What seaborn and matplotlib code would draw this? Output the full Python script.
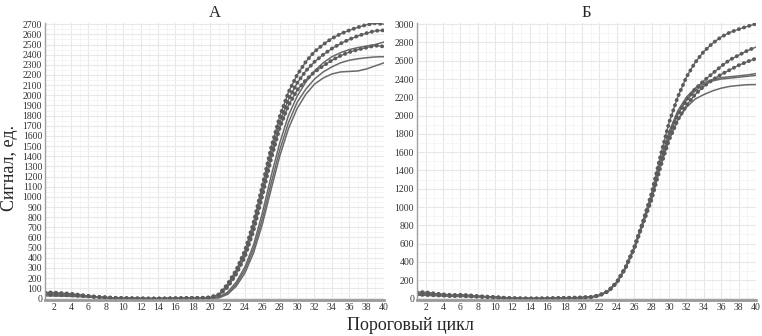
import numpy as np
import matplotlib
matplotlib.use('Agg')
import matplotlib.pyplot as plt
import seaborn as sns
from matplotlib.ticker import MultipleLocator

cycles = list(range(1, 41))

# Panel A - dotted curves
a_dot1 = [60, 58, 52, 46, 35, 24, 15, 9, 5, 2, 0, -2, -3, -3, -2, 0, 3, 5, 6, 10,
          40, 140, 280, 470, 750, 1110, 1480, 1790, 2030, 2200,
          2330, 2430, 2500, 2560, 2605, 2640, 2670, 2695, 2710, 2700]
a_dot2 = [45, 44, 40, 38, 30, 22, 14, 9, 5, 2, 0, -1, -2, -2, -1, 1, 3, 4, 5, 8,
          35, 125, 260, 440, 710, 1060, 1420, 1730, 1960, 2120,
          2240, 2330, 2400, 2460, 2510, 2550, 2585, 2612, 2635, 2640]
a_dot3 = [35, 34, 32, 30, 25, 20, 14, 10, 6, 3, 1, 0, -1, -1, 0, 1, 2, 3, 4, 7,
          30, 110, 240, 410, 670, 1010, 1370, 1680, 1900, 2050,
          2150, 2230, 2290, 2345, 2390, 2425, 2450, 2470, 2490, 2480]
# Panel A - solid curves
a_sol1 = [55, 52, 46, 40, 30, 20, 12, 6, 2, 0, -2, -3, -3, -3, -2, 0, 2, 4, 5, 6,
          15, 60, 160, 310, 530, 840, 1200, 1530, 1800, 1990,
          2130, 2240, 2320, 2380, 2420, 2450, 2470, 2485, 2500, 2525]
a_sol2 = [40, 38, 35, 32, 26, 18, 11, 6, 3, 1, 0, -1, -2, -2, -1, 0, 2, 3, 4, 5,
          10, 50, 140, 280, 490, 780, 1130, 1460, 1730, 1930,
          2060, 2160, 2230, 2280, 2320, 2345, 2360, 2370, 2378, 2380]
a_sol3 = [25, 24, 22, 20, 17, 13, 9, 6, 3, 1, 0, -1, -1, -1, 0, 0, 1, 2, 3, 4,
          5, 40, 120, 250, 450, 730, 1070, 1400, 1670, 1870,
          2010, 2110, 2170, 2210, 2230, 2235, 2240, 2260, 2290, 2320]

# Panel B - dotted curves
b_dot1 = [70, 68, 55, 45, 38, 40, 35, 25, 20, 15, 8, 2, 0, -2, -2, 0, 3, 6, 8, 10,
          15, 35, 80, 180, 340, 560, 840, 1150, 1550, 1920,
          2200, 2420, 2580, 2700, 2790, 2860, 2910, 2945, 2975, 3005]
b_dot2 = [55, 52, 45, 38, 30, 32, 28, 22, 16, 12, 6, 1, -1, -2, -2, 0, 2, 5, 7, 9,
          14, 33, 78, 175, 335, 550, 825, 1100, 1470, 1780,
          2010, 2170, 2290, 2380, 2460, 2540, 2610, 2660, 2710, 2750]
b_dot3 = [40, 38, 34, 30, 25, 26, 22, 18, 14, 10, 5, 1, -1, -1, -1, 0, 2, 4, 6, 8,
          13, 32, 76, 172, 330, 545, 815, 1080, 1430, 1730,
          1950, 2110, 2230, 2320, 2390, 2450, 2500, 2550, 2590, 2625]
# Panel B - solid curves
b_sol1 = [60, 58, 50, 42, 34, 36, 30, 24, 18, 13, 7, 2, 0, -1, -1, 0, 3, 5, 7, 9,
          14, 34, 79, 178, 338, 555, 835, 1120, 1500, 1820,
          2050, 2200, 2300, 2360, 2395, 2415, 2425, 2435, 2445, 2460]
b_sol2 = [48, 46, 40, 35, 28, 29, 25, 20, 15, 11, 6, 1, -1, -1, -1, 0, 2, 4, 6, 8,
          13, 33, 77, 176, 335, 550, 830, 1110, 1480, 1790,
          2020, 2170, 2270, 2340, 2380, 2400, 2410, 2420, 2430, 2440]
b_sol3 = [35, 33, 30, 27, 22, 22, 19, 15, 12, 9, 4, 0, -1, -1, -1, 0, 1, 3, 5, 7,
          12, 31, 75, 170, 328, 540, 810, 1090, 1450, 1740,
          1950, 2090, 2180, 2230, 2270, 2300, 2320, 2330, 2338, 2340]

panels = [
    ('А', [a_dot1, a_dot2, a_dot3], [a_sol1, a_sol2, a_sol3], 2700, 100),
    ('Б', [b_dot1, b_dot2, b_dot3], [b_sol1, b_sol2, b_sol3], 3000, 200),
]

sns.set_theme(style='white')
plt.rcParams['font.family'] = ['Liberation Serif', 'DejaVu Serif']

fig = plt.figure(figsize=(7.62, 3.36), dpi=100)
axes = [fig.add_axes([0.059, 0.107, 0.445, 0.825]),
        fig.add_axes([0.547, 0.107, 0.445, 0.825])]

line_col = '#6a6a6a'
dot_col = '#5c5c5c'

for ax, (title, dotted, solid, ymax, ystep) in zip(axes, panels):
    for s in solid:
        sns.lineplot(x=cycles, y=s, ax=ax, color=line_col, lw=1.1)
    for d in dotted:
        sns.lineplot(x=cycles, y=d, ax=ax, color=line_col, lw=1.0)
        sns.lineplot(x=cycles, y=d, ax=ax, color=dot_col, lw=2.8,
                     linestyle=(0, (0.05, 1.35)), dash_capstyle='round')
    ax.set_xlim(1, 40)
    ax.set_ylim(-ymax * 0.006, ymax * 1.005)
    ax.xaxis.set_minor_locator(MultipleLocator(1))
    ax.yaxis.set_minor_locator(MultipleLocator(ystep / 2))
    ax.set_xticks(range(2, 41, 2))
    ax.set_yticks(range(0, ymax + 1, ystep))
    ax.grid(which='major', color='#e8e8e8', lw=0.8)
    ax.grid(which='minor', color='#f4f4f4', lw=0.6)
    ax.tick_params(axis='both', which='both', length=0, labelsize=7, pad=2,
                   colors='#333333')
    for side in ['top', 'right']:
        ax.spines[side].set_visible(False)
    ax.spines['left'].set_color('#a0a0a0')
    ax.spines['left'].set_linewidth(1.0)
    ax.spines['bottom'].set_color('#999999')
    ax.spines['bottom'].set_linewidth(2.0)
    ax.set_title(title, fontsize=12, pad=4)
    ax.set_xlabel('')
    ax.set_ylabel('')

fig.text(0.538, 0.03, 'Пороговый цикл', ha='center', va='center', fontsize=13)
fig.text(0.013, 0.5, 'Сигнал, ед.', ha='center', va='center', rotation=90,
         fontsize=13)

fig.savefig('out.png', dpi=100)
